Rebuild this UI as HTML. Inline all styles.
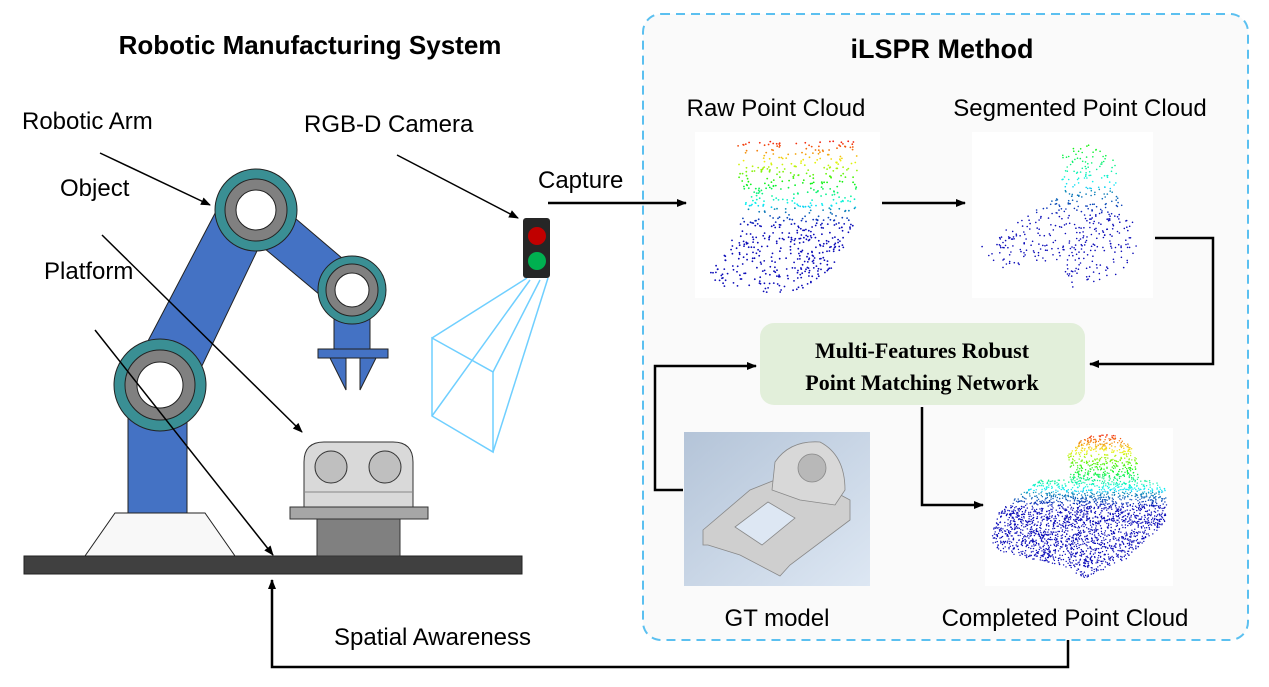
<!DOCTYPE html>
<html><head><meta charset="utf-8"><style>
html,body{margin:0;padding:0;background:#fff;}
svg{display:block}
text{font-family:"Liberation Sans","DejaVu Sans",sans-serif;fill:#000}
</style></head><body>
<svg id="s" width="1269" height="687" viewBox="0 0 1269 687" xmlns="http://www.w3.org/2000/svg">
<defs>
<marker id="ar" markerWidth="10" markerHeight="10" refX="9" refY="5" orient="auto" markerUnits="userSpaceOnUse"><path d="M0,1 L10,5 L0,9 z" fill="#000"/></marker>
<linearGradient id="gt" x1="0" y1="0" x2="1" y2="1"><stop offset="0" stop-color="#b4c4d8"/><stop offset="1" stop-color="#dde7f3"/></linearGradient>
</defs>
<rect x="643" y="14" width="605" height="626" rx="18" fill="#fafafa" stroke="#5bc0f0" stroke-width="2" stroke-dasharray="9,6"/>
<text x="942" y="58" font-size="27" font-weight="bold" text-anchor="middle">iLSPR Method</text>
<text x="310" y="54" font-size="26" font-weight="bold" text-anchor="middle">Robotic Manufacturing System</text>

<text x="22" y="129" font-size="24">Robotic Arm</text>
<text x="60" y="196" font-size="24">Object</text>
<text x="44" y="279" font-size="24">Platform</text>
<text x="304" y="132" font-size="24">RGB-D Camera</text>
<text x="538" y="188" font-size="24">Capture</text>
<text x="334" y="645" font-size="24">Spatial Awareness</text>
<text x="776" y="116" font-size="24" text-anchor="middle">Raw Point Cloud</text>
<text x="1080" y="116" font-size="24" text-anchor="middle">Segmented Point Cloud</text>
<text x="777" y="626" font-size="24" text-anchor="middle">GT model</text>
<text x="1065" y="626" font-size="24" text-anchor="middle">Completed Point Cloud</text>

<rect x="24" y="556" width="498" height="18" fill="#404040" stroke="#222"/>
<polygon points="85,556 235,556 205,513 115,513" fill="#f8f8f8" stroke="#222"/>
<rect x="128" y="400" width="59" height="113" fill="#4472c4" stroke="#222"/>
<polygon points="138,360 222,200 268,228 188,395" fill="#4472c4" stroke="#222"/>
<polygon points="262,190 356,270 332,305 240,228" fill="#4472c4" stroke="#222"/>
<rect x="334" y="300" width="36" height="50" fill="#4472c4" stroke="#222"/>
<rect x="318" y="349" width="70" height="9" fill="#4472c4" stroke="#222"/>
<polygon points="330,358 346,358 346,390" fill="#4472c4" stroke="#222"/>
<polygon points="360,358 376,358 360,390" fill="#4472c4" stroke="#222"/>
<circle cx="160" cy="385" r="46" fill="#3a8f94" stroke="#222"/>
<circle cx="160" cy="385" r="35" fill="#808080" stroke="#222"/>
<circle cx="160" cy="385" r="23" fill="#fff" stroke="#222"/>
<circle cx="256" cy="210" r="41" fill="#3a8f94" stroke="#222"/>
<circle cx="256" cy="210" r="31" fill="#808080" stroke="#222"/>
<circle cx="256" cy="210" r="20" fill="#fff" stroke="#222"/>
<circle cx="352" cy="290" r="34" fill="#3a8f94" stroke="#222"/>
<circle cx="352" cy="290" r="26" fill="#808080" stroke="#222"/>
<circle cx="352" cy="290" r="17" fill="#fff" stroke="#222"/>
<path d="M304,507 V462 Q304,442 324,442 H393 Q413,442 413,462 V507 z" fill="#d9d9d9" stroke="#333"/>
<line x1="304" y1="492" x2="413" y2="492" stroke="#888"/>
<circle cx="331" cy="467" r="16" fill="#bfbfbf" stroke="#333"/>
<circle cx="385" cy="467" r="16" fill="#bfbfbf" stroke="#333"/>
<rect x="290" y="507" width="138" height="12" fill="#a6a6a6" stroke="#333"/>
<rect x="317" y="519" width="83" height="37" fill="#808080" stroke="#333"/>
<g stroke="#6fcfff" stroke-width="1.5" fill="none">
<polygon points="432,338 493,372 493,452 432,416"/>
<line x1="527" y1="278" x2="432" y2="338"/><line x1="530" y1="280" x2="432" y2="416"/>
<line x1="540" y1="280" x2="493" y2="372"/><line x1="548" y1="278" x2="493" y2="452"/>
</g>
<rect x="523" y="218" width="27" height="60" rx="3" fill="#262626"/>
<circle cx="537" cy="236" r="9" fill="#c00000"/>
<circle cx="537" cy="261" r="9" fill="#00b050"/>
<g stroke="#000" stroke-width="1.5" fill="none" marker-end="url(#ar)">
<line x1="100" y1="153" x2="210" y2="205"/>
<line x1="102" y1="235" x2="302" y2="432"/>
<line x1="95" y1="330" x2="273" y2="555"/>
<line x1="397" y1="155" x2="518" y2="218"/>
</g>
<g stroke="#000" stroke-width="2.5" fill="none" marker-end="url(#ar)">
<line x1="548" y1="203" x2="686" y2="203"/>
<line x1="882" y1="203" x2="965" y2="203"/>
<polyline points="1155,238 1213,238 1213,364 1090,364"/>
<polyline points="683,490 655,490 655,366 756,366"/>
<polyline points="922,407 922,505 983,505"/>
<polyline points="1068,640 1068,667 272,667 272,580"/>
</g>
<rect x="695" y="132" width="185" height="166" fill="#fff"/>
<rect x="972" y="132" width="181" height="166" fill="#fff"/>
<rect x="985" y="428" width="188" height="158" fill="#fff"/>
<rect x="684" y="432" width="186" height="154" fill="url(#gt)"/>
<g stroke="#888" stroke-width="0.8" fill="#cfcfcf">
<polygon points="703,530 750,490 780,478 800,470 835,492 850,500 850,520 790,565 780,576 740,555 708,545 703,545"/>
<polygon points="735,527 768,502 795,518 762,545" fill="#dde7f3"/>
<path d="M772,490 L775,462 Q790,440 820,442 Q845,455 845,490 L835,505 L800,500 z" fill="#d8d8d8"/>
<circle cx="812" cy="468" r="14" fill="#b8b8b8"/>
</g>
<g id="pc"></g>
<rect x="760" y="323" width="325" height="82" rx="14" fill="#e2efda"/>
<text x="922" y="358" font-size="22" font-weight="bold" text-anchor="middle" style="font-family:'Liberation Serif',serif">Multi-Features Robust</text>
<text x="922" y="390" font-size="22" font-weight="bold" text-anchor="middle" style="font-family:'Liberation Serif',serif">Point Matching Network</text>
</svg>
<script>
(function(){
var s=7;function r(){s=(s*16807)%2147483647;return s/2147483647;}
function col(t){t=Math.max(0,Math.min(1,t));var h=240*t;return 'hsl('+h+',90%,'+(t>0.8?38:50)+'%)';}
var g=document.getElementById('pc'),out='';
function dot(x,y,c,rr){out+='<circle cx="'+x.toFixed(1)+'" cy="'+y.toFixed(1)+'" r="'+rr+'" fill="'+c+'"/>';}
function inPoly(x,y,p){var c=false;for(var i=0,j=p.length-1;i<p.length;j=i++){if(((p[i][1]>y)!=(p[j][1]>y))&&(x<(p[j][0]-p[i][0])*(y-p[i][1])/(p[j][1]-p[i][1])+p[i][0]))c=!c;}return c;}
var rawP=[[737,142],[858,140],[855,230],[830,270],[800,290],[770,295],[730,290],[705,275],[740,230]];
var n=0;while(n<650){var x=700+r()*160,y=138+r()*160;if(inPoly(x,y,rawP)){n++;dot(x,y,col((y-140)/85),0.9);}}
var segP=[[980,245],[1030,215],[1060,190],[1062,155],[1085,142],[1115,160],[1120,200],[1135,215],[1138,245],[1120,275],[1070,290],[1060,260],[1000,270]];
n=0;while(n<450){var x=975+r()*170,y=140+r()*155;if(inPoly(x,y,segP)){n++;dot(x,y,col(0.45+(y-140)/140),0.8);}}
var cP=[[990,540],[1000,510],[1040,480],[1070,480],[1068,455],[1085,436],[1115,434],[1135,450],[1140,478],[1165,485],[1168,520],[1125,560],[1085,578],[1060,565],[1000,552]];
n=0;while(n<2800){var x=985+r()*188,y=430+r()*155;if(inPoly(x,y,cP)){n++;dot(x,y,col((y-436)/75+0.05),0.7);}}
g.innerHTML=out;
})();
</script>
</body></html>
